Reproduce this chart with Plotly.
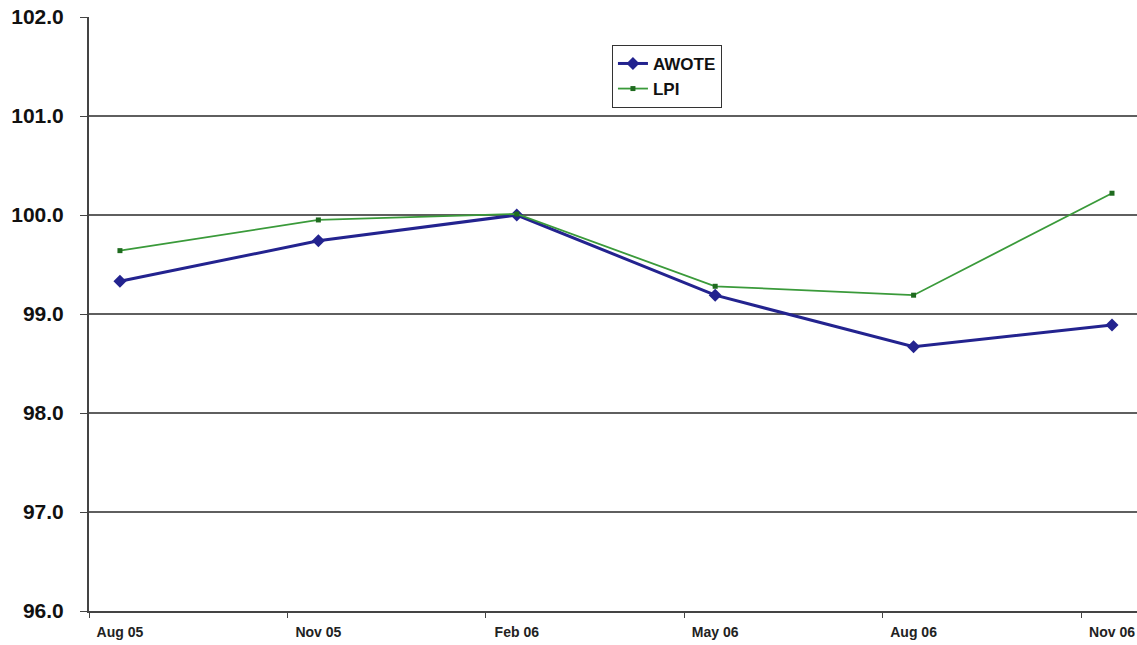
import plotly.graph_objects as go

# Quarterly index values (Feb 06 = 100)
quarters = ["Aug 05", "Nov 05", "Feb 06", "May 06", "Aug 06", "Nov 06"]
awote = [99.33, 99.74, 100.00, 99.19, 98.67, 98.89]
lpi = [99.64, 99.95, 100.01, 99.28, 99.19, 100.22]
y_ticks = [96, 97, 98, 99, 100, 101, 102]

xpos = list(range(len(quarters)))

fig = go.Figure()
fig.add_trace(go.Scatter(
    x=xpos, y=awote, name="AWOTE", mode="lines+markers",
    line=dict(color="#23238f", width=3),
    marker=dict(symbol="diamond", size=10, color="#23238f"),
))
fig.add_trace(go.Scatter(
    x=xpos, y=lpi, name="LPI", mode="lines+markers",
    line=dict(color="#3a9a3a", width=1.8),
    marker=dict(symbol="square", size=5, color="#1f6b1f"),
))

fig.update_layout(
    width=1137, height=645,
    margin=dict(l=89, r=0, t=17, b=34),
    paper_bgcolor="white", plot_bgcolor="white",
    font=dict(family="Liberation Sans, Arial, sans-serif", color="#111"),
    showlegend=True,
    legend=dict(
        x=0.499, y=0.953, xanchor="left", yanchor="top",
        bgcolor="white", bordercolor="#333", borderwidth=1,
        font=dict(size=17, family="Liberation Sans, Arial, sans-serif", weight="bold"),
        itemwidth=30, tracegroupgap=0, entrywidth=90,
    ),
    xaxis=dict(
        range=[-0.156, 5.126],
        tickmode="array", tickvals=xpos, ticktext=quarters,
        ticks="", showgrid=False, zeroline=False,
        showline=True, linecolor="#444", linewidth=2,
        tickfont=dict(size=14, weight="bold", color="#222"),
        ticklabelstandoff=7,
        minor=dict(ticks="outside", tick0=-0.156, dtick=1, ticklen=5,
                   tickcolor="#444", tickwidth=1, showgrid=False),
    ),
    yaxis=dict(
        range=[96, 102],
        tickmode="array", tickvals=y_ticks,
        ticktext=[f"{v:.1f}" for v in y_ticks],
        ticks="outside", ticklen=7, tickcolor="#444", tickwidth=1,
        showgrid=True, gridcolor="#5f5f5f", gridwidth=1.5,
        zeroline=False,
        showline=True, linecolor="#444", linewidth=2,
        tickfont=dict(size=21, weight="bold", color="#111"),
        ticklabelstandoff=12,
    ),
)

fig.write_html("out.html")
